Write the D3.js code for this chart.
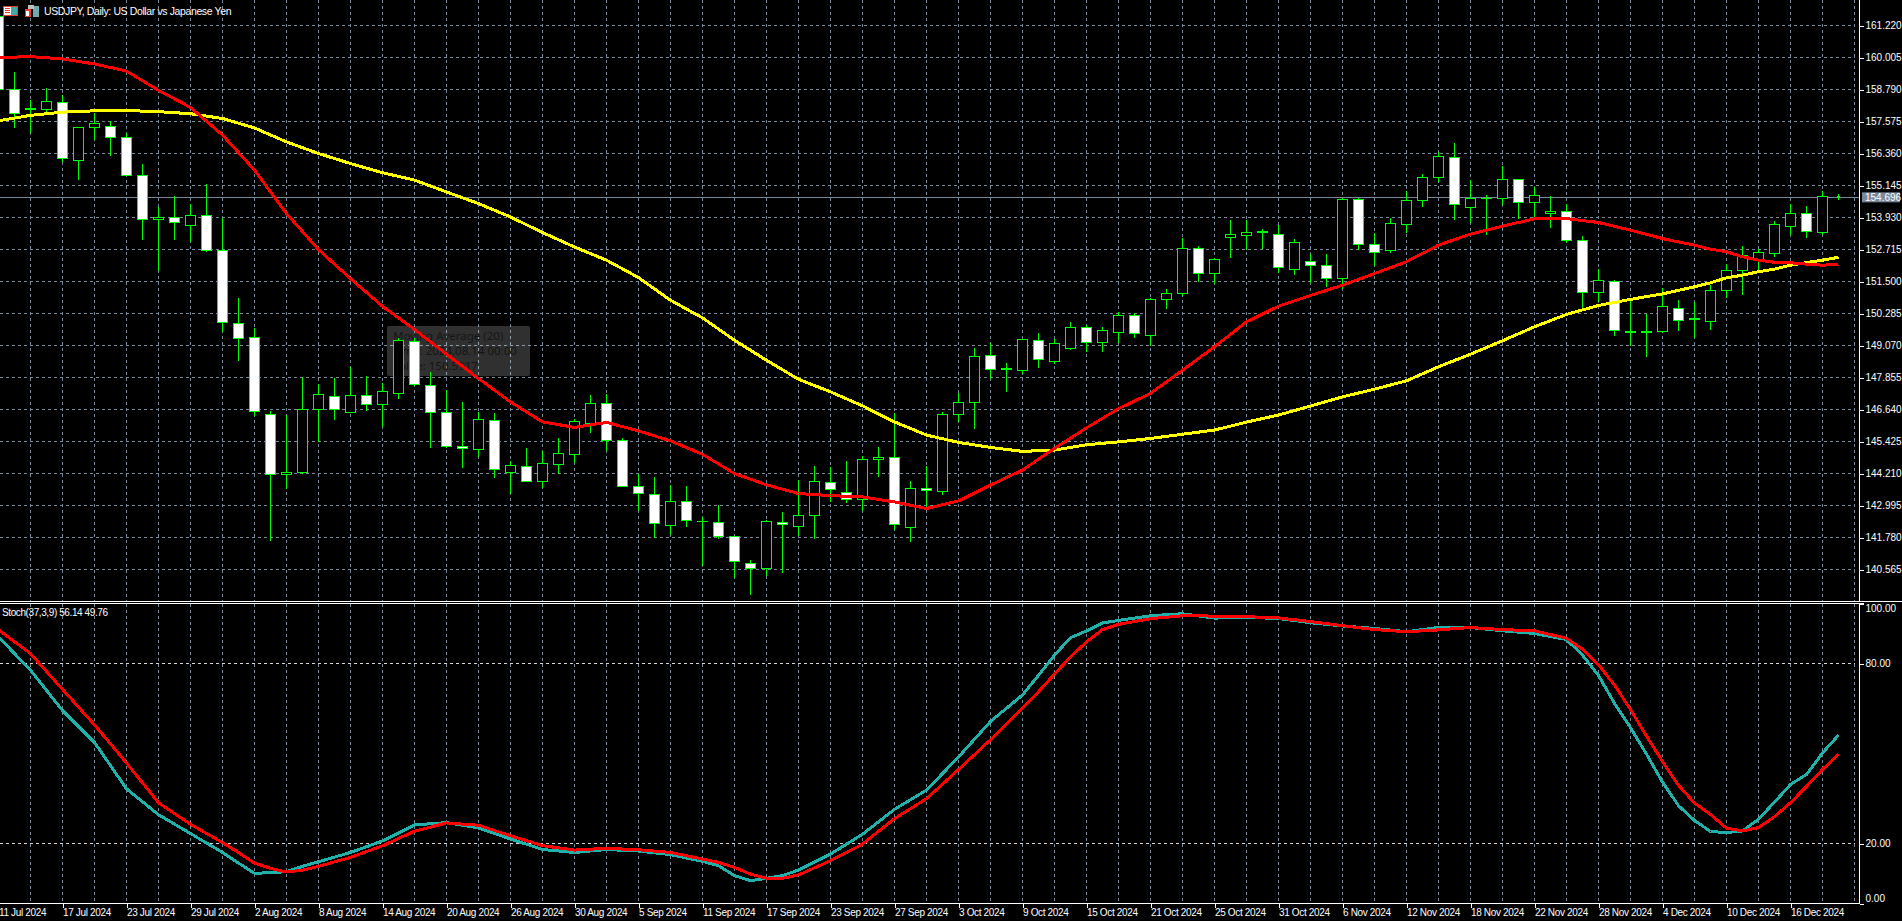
<!DOCTYPE html>
<html>
<head>
<meta charset="utf-8">
<title>USDJPY Daily</title>
<script src="https://cdn.jsdelivr.net/npm/d3@7"></script>
<style>
  html, body { margin: 0; padding: 0; background: #000; overflow: hidden; }
  svg { display: block; }
  text { font-family: "Liberation Sans", sans-serif; fill: #fff; }
</style>
</head>
<body>
<div id="chart"></div>
<script>
// bougies, de la barre -1 (coupee a gauche) a la barre 114
const opens = [
  161.57, 158.79, 158.05, 158.02, 158.28, 156.09, 157.35, 157.37, 156.97, 155.51,
  153.84, 153.92, 153.61, 153.99, 152.68, 149.89, 149.37, 146.45, 144.17, 144.24,
  146.64, 147.13, 146.53, 147.17, 146.83, 147.25, 149.22, 147.55, 146.53, 145.23,
  145.12, 146.22, 144.23, 144.46, 143.91, 144.54, 144.93, 146.10, 146.87, 145.46,
  143.72, 143.41, 142.24, 143.15, 142.39, 142.35, 141.80, 140.79, 140.60, 142.35,
  142.20, 142.62, 143.87, 143.50, 143.22, 144.74, 144.82, 142.16, 143.64, 143.53,
  146.45, 146.91, 148.69, 148.19, 148.12, 149.26, 148.46, 148.94, 149.75, 149.18,
  149.56, 150.21, 149.45, 150.82, 151.03, 152.75, 151.80, 153.16, 153.23, 153.38,
  153.28, 151.94, 152.25, 152.10, 151.61, 154.61, 152.90, 152.68, 153.65, 154.58,
  155.45, 156.21, 154.31, 154.64, 154.65, 155.37, 154.50, 154.08, 154.16, 153.06,
  151.08, 151.50, 149.60, 149.60, 149.60, 150.48, 150.09, 149.98, 151.16, 151.92,
  152.30, 152.56, 153.59, 154.08, 153.36, 154.73,
];
const highs = [
  161.90, 159.45, 158.41, 158.84, 158.60, 157.38, 157.88, 157.61, 157.12, 155.98,
  154.31, 154.74, 154.44, 155.22, 153.92, 150.89, 149.75, 146.58, 146.44, 147.89,
  147.59, 147.85, 148.26, 147.93, 147.63, 149.37, 149.37, 148.06, 147.37, 146.92,
  146.53, 146.50, 144.68, 145.16, 145.07, 145.54, 146.27, 147.18, 147.22, 145.54,
  144.21, 144.06, 143.79, 143.72, 142.57, 143.03, 141.80, 140.91, 142.46, 142.73,
  143.98, 144.49, 144.44, 144.68, 144.89, 145.21, 146.49, 143.91, 144.51, 146.53,
  147.25, 148.99, 149.15, 148.39, 149.30, 149.56, 149.30, 149.98, 149.83, 149.79,
  150.35, 150.29, 150.89, 151.20, 153.17, 152.83, 152.40, 153.85, 153.85, 153.48,
  153.63, 153.10, 152.56, 152.53, 154.66, 154.66, 153.36, 153.93, 154.92, 155.60,
  156.41, 156.74, 155.37, 154.80, 155.88, 155.37, 155.07, 154.74, 154.46, 153.22,
  151.96, 151.55, 150.85, 150.25, 151.27, 150.78, 150.74, 151.35, 152.18, 152.83,
  152.75, 153.78, 154.46, 154.36, 154.92, 154.82,
];
const lows = [
  158.60, 157.33, 157.12, 157.95, 156.02, 155.36, 156.88, 156.27, 155.50, 153.07,
  151.88, 153.07, 152.99, 152.63, 149.59, 148.49, 146.40, 141.65, 143.63, 144.20,
  145.41, 146.26, 146.53, 146.59, 145.96, 147.03, 147.55, 145.17, 145.18, 144.41,
  144.82, 144.03, 143.44, 143.89, 143.67, 144.21, 144.60, 145.75, 145.08, 143.70,
  142.77, 141.77, 141.86, 142.19, 140.70, 141.74, 140.26, 139.58, 140.30, 140.45,
  141.84, 141.73, 143.11, 143.10, 142.77, 144.08, 142.06, 141.62, 142.91, 143.39,
  146.18, 145.89, 147.81, 147.31, 147.99, 148.22, 148.37, 148.91, 148.83, 148.83,
  149.15, 149.36, 149.06, 150.45, 150.96, 151.50, 151.42, 152.40, 152.71, 152.74,
  151.83, 151.75, 151.46, 151.30, 151.20, 152.68, 152.10, 152.60, 153.36, 154.33,
  155.27, 153.84, 153.74, 153.27, 154.41, 153.88, 153.85, 153.54, 152.97, 150.45,
  150.74, 149.44, 149.06, 148.64, 149.53, 149.63, 149.36, 149.67, 150.89, 150.99,
  151.88, 152.44, 153.26, 153.16, 153.25, 154.60,
];
const closes = [
  158.79, 157.88, 158.03, 158.33, 156.17, 157.35, 157.49, 156.95, 155.51, 153.85,
  153.92, 153.73, 153.99, 152.66, 149.93, 149.32, 146.55, 144.17, 144.25, 146.64,
  147.21, 146.64, 147.17, 146.83, 147.32, 149.26, 147.59, 146.53, 145.22, 145.16,
  146.26, 144.36, 144.51, 143.91, 144.58, 144.96, 146.18, 146.87, 145.46, 143.72,
  143.45, 142.31, 143.15, 142.42, 142.37, 141.82, 140.87, 140.60, 142.39, 142.27,
  142.62, 143.91, 143.60, 143.22, 144.74, 144.82, 142.27, 143.64, 143.57, 146.45,
  146.91, 148.65, 148.16, 148.17, 149.30, 148.54, 149.15, 149.75, 149.18, 149.64,
  150.21, 149.53, 150.82, 151.03, 152.75, 151.80, 152.34, 153.28, 153.36, 153.36,
  152.02, 152.98, 152.11, 151.61, 154.61, 152.90, 152.60, 153.70, 154.58, 155.45,
  156.25, 154.42, 154.66, 154.66, 155.37, 154.50, 154.77, 154.16, 153.06, 151.08,
  151.54, 149.64, 149.58, 149.58, 150.55, 150.02, 150.07, 151.16, 151.92, 152.49,
  152.60, 153.67, 154.08, 153.40, 154.73, 154.696,
];

// moyennes mobiles, lues une barre sur deux, plus serrees a la fin
const maBars = [
  -1, 1, 3, 5, 7, 9, 11, 13, 15, 17, 19, 21, 23, 25, 27, 29, 31, 33, 35, 37,
  39, 41, 43, 45, 47, 49, 51, 53, 55, 57, 59, 61, 63, 65, 67, 69, 71, 73, 75, 77,
  79, 81, 83, 85, 87, 89, 91, 93, 95, 97, 99, 101, 103, 105, 106, 107, 108, 109,
  110, 111, 112, 113, 114,
];
const ma20 = [
  160.00, 160.04, 159.95, 159.76, 159.49, 158.76, 158.11, 157.06, 155.73, 154.08,
  152.71, 151.61, 150.56, 149.68, 148.74, 147.82, 146.93, 146.17, 145.96, 146.15,
  145.83, 145.45, 144.94, 144.21, 143.78, 143.45, 143.37, 143.32, 143.13, 142.88,
  143.17, 143.77, 144.34, 145.16, 145.94, 146.67, 147.25, 148.13, 149.02, 149.97,
  150.56, 150.97, 151.36, 151.80, 152.25, 152.88, 153.30, 153.60, 153.88, 153.89,
  153.74, 153.45, 153.13, 152.88, 152.73, 152.63, 152.44, 152.31,
  152.23, 152.21, 152.16, 152.12, 152.15,
];
const ma50 = [
  157.60, 157.81, 157.93, 157.98, 157.99, 157.95, 157.87, 157.69, 157.33, 156.80,
  156.36, 155.98, 155.63, 155.35, 154.90, 154.46, 153.95, 153.36, 152.81, 152.31,
  151.65, 150.79, 150.12, 149.27, 148.51, 147.79, 147.31, 146.78, 146.17, 145.67,
  145.39, 145.20, 145.05, 145.10, 145.30, 145.41, 145.54, 145.70, 145.86, 146.16,
  146.43, 146.77, 147.12, 147.41, 147.73, 148.26, 148.74, 149.25, 149.78, 150.25,
  150.59, 150.82, 151.03, 151.30, 151.45, 151.64, 151.74, 151.87,
  151.97, 152.12, 152.22, 152.31, 152.42,
];

// stochastique, points plus serres dans les virages
const stochBars = [
  -1, 1, 3, 5, 7, 9, 11, 13, 14, 15, 16, 17, 18, 19,
  21, 23, 25, 27, 29, 31, 33, 35, 37, 39, 41, 43, 44, 45, 46, 47, 48, 49,
  51, 53, 55, 57, 59, 61, 63, 64, 65, 66, 67, 68, 69,
  71, 73, 75, 77, 79, 81, 83, 85, 87, 89, 91, 93, 95, 97,
  98, 99, 100, 101, 102, 103, 104, 105, 106, 107, 108, 109, 110, 111, 112, 113, 114,
];
const stochMain = [
  88.84, 77.79, 64.31, 53.70, 38.23, 29.61, 23.31, 17.01, 13.48, 10.05, 10.3, 10.61, 12.4, 13.92,
  17.01, 20.88, 26.19, 26.96, 25.19, 21.5, 18.0, 17.0, 18.0, 17.5, 16.3, 14.04, 12.6, 9.29, 7.6, 8.40, 9.3, 11.16,
  16.47, 23.10, 31.39, 37.79, 48.84, 60.67, 69.51, 76.1, 82.77, 88.6, 90.83, 93.5, 94.37,
  95.92, 96.58, 95.14, 95.4, 95.0, 93.6, 92.5, 91.7, 90.6, 92.0, 92.0, 90.9, 90.0, 88.0,
  82.8, 76.0, 66.7, 58.6, 49.8, 40.5, 32.6, 27.7, 24.0, 23.65, 24.2, 28.07, 33.8, 39.67, 43.0, 50.17, 56.14,
];
const stochSignal = [
  91.27, 83.31, 71.38, 59.56, 46.85, 33.59, 26.41, 20.33, 17.0, 13.48, 11.7, 10.50, 11.1, 12.37,
  15.36, 19.23, 24.09, 26.85, 26.08, 22.6, 19.3, 17.8, 18.4, 17.9, 17.0, 14.81, 13.7, 12.05, 9.8, 8.40, 8.4, 9.51,
  14.26, 19.78, 28.29, 34.92, 44.64, 54.59, 65.09, 70.6, 76.47, 82.2, 87.19, 91.3, 93.04,
  94.92, 95.92, 95.81, 95.6, 95.2, 94.0, 92.6, 91.3, 90.6, 91.2, 92.0, 91.3, 90.9, 88.4,
  84.8, 79.6, 72.8, 64.7, 55.8, 47.4, 39.4, 33.5, 29.7, 25.09, 24.2, 25.31, 28.95, 33.59, 39.0, 44.65, 49.76,
];

// axes
const priceTicks = [
  161.22, 160.005, 158.79, 157.575, 156.36, 155.145, 153.93, 152.715, 151.5,
  150.285, 149.07, 147.855, 146.64, 145.425, 144.21, 142.995, 141.78, 140.565,
];
const stochTicks = [100, 80, 20, 0];
const stochLevels = [80, 20];
const dateLabels = [
  "11 Jul 2024", "17 Jul 2024", "23 Jul 2024", "29 Jul 2024", "2 Aug 2024",
  "8 Aug 2024", "14 Aug 2024", "20 Aug 2024", "26 Aug 2024", "30 Aug 2024",
  "5 Sep 2024", "11 Sep 2024", "17 Sep 2024", "23 Sep 2024", "27 Sep 2024",
  "3 Oct 2024", "9 Oct 2024", "15 Oct 2024", "21 Oct 2024", "25 Oct 2024",
  "31 Oct 2024", "6 Nov 2024", "12 Nov 2024", "18 Nov 2024", "22 Nov 2024",
  "28 Nov 2024", "4 Dec 2024", "10 Dec 2024", "16 Dec 2024",
];
const lastPrice = 154.696;
const tooltipLines = ["Moving Average (20)", "Time: 2024.08.14 00:00", "Value: 150.5917"];

// dimensions
const width = 1902;
const height = 921;
const axisX = 1859.5;
const axisY = 903.5;

const green = "#00ff00";
const gridColor = "#778899";

const x = d3.scaleLinear().domain([-1, 115]).range([-1.5, 1854.5]);
const y = d3.scaleLinear().domain([161.22, 140.565]).range([25.5, 569.5]);
const yStoch = d3.scaleLinear().domain([0, 100]).range([903.5, 603.5]);

const svg = d3
  .select("#chart")
  .append("svg")
  .attr("width", width)
  .attr("height", height);

svg.append("rect").attr("width", width).attr("height", height).attr("fill", "#000");

svg.append("clipPath").attr("id", "clip-price")
  .append("rect").attr("width", axisX).attr("height", 601);
svg.append("clipPath").attr("id", "clip-stoch")
  .append("rect").attr("y", 604).attr("width", axisX).attr("height", axisY - 604);

// grille
const grid = svg.append("g")
  .attr("stroke", gridColor)
  .attr("stroke-dasharray", "3,3")
  .attr("shape-rendering", "crispEdges");

grid.selectAll(".h")
  .data(priceTicks)
  .enter()
  .append("line")
  .attr("x1", 0)
  .attr("x2", 1855)
  .attr("y1", (d) => y(d))
  .attr("y2", (d) => y(d));

const gridBars = d3.range(1, 116, 2);
[[0, 601], [604, axisY]].forEach(function (span) {
  grid.selectAll(".v" + span[0])
    .data(gridBars)
    .enter()
    .append("line")
    .attr("x1", (d) => x(d))
    .attr("x2", (d) => x(d))
    .attr("y1", span[0])
    .attr("y2", span[1]);
});

svg.append("g")
  .attr("stroke", "#d8d8d8")
  .attr("stroke-dasharray", "3,3")
  .attr("shape-rendering", "crispEdges")
  .selectAll("line")
  .data(stochLevels)
  .enter()
  .append("line")
  .attr("x1", 0)
  .attr("x2", 1855)
  .attr("y1", (d) => yStoch(d))
  .attr("y2", (d) => yStoch(d));

// ligne du dernier prix
svg.append("line")
  .attr("x1", 0)
  .attr("x2", axisX)
  .attr("y1", y(lastPrice))
  .attr("y2", y(lastPrice))
  .attr("stroke", gridColor)
  .attr("shape-rendering", "crispEdges");

// info box restee a l'ecran, sous les bougies
const tip = svg.append("g");
tip.append("rect")
  .attr("x", 387)
  .attr("y", 326)
  .attr("width", 143)
  .attr("height", 50)
  .attr("rx", 2)
  .attr("fill", "#ffffff")
  .attr("fill-opacity", 0.19);
tip.selectAll("text")
  .data(tooltipLines)
  .enter()
  .append("text")
  .attr("x", 393)
  .attr("y", (d, i) => 340 + i * 15)
  .style("fill", "#141414")
  .style("font-family", "'Noto Sans', sans-serif")
  .style("font-size", "11.5px")
  .text((d) => d);

// bougies
const bars = opens.map((o, i) => ({
  bar: i - 1, open: o, high: highs[i], low: lows[i], close: closes[i],
}));

const candles = svg.append("g")
  .attr("clip-path", "url(#clip-price)")
  .attr("shape-rendering", "crispEdges");

candles.selectAll(".wick")
  .data(bars)
  .enter()
  .append("line")
  .attr("x1", (d) => x(d.bar))
  .attr("x2", (d) => x(d.bar))
  .attr("y1", (d) => y(d.high))
  .attr("y2", (d) => y(d.low))
  .attr("stroke", green);

candles.selectAll(".body")
  .data(bars)
  .enter()
  .append("rect")
  // la derniere barre est encore en formation, corps tres court
  .attr("x", (d) => x(d.bar) - (d.bar === 114 ? 1 : 5))
  .attr("width", (d) => (d.bar === 114 ? 2 : 10))
  .attr("y", (d) => y(Math.max(d.open, d.close)))
  .attr("height", (d) => Math.abs(y(d.open) - y(d.close)))
  .attr("fill", (d) => (d.close >= d.open ? "#000" : "#fff"))
  .attr("stroke", green);

// courbes
function drawLine(parent, yScale, barList, values, color, strokeWidth) {
  const line = d3.line()
    .x((d) => x(d))
    .y((d, i) => yScale(values[i]));
  parent.append("path")
    .datum(barList)
    .attr("d", line)
    .attr("fill", "none")
    .attr("stroke", color)
    .attr("stroke-width", strokeWidth)
    .attr("stroke-linejoin", "round")
    .attr("shape-rendering", "crispEdges");
}

const maLayer = svg.append("g").attr("clip-path", "url(#clip-price)");
drawLine(maLayer, y, maBars, ma50, "#ffff00", 3);
drawLine(maLayer, y, maBars, ma20, "#ff0000", 3);

const stochLayer = svg.append("g").attr("clip-path", "url(#clip-stoch)");
drawLine(stochLayer, yStoch, stochBars, stochMain, "#20b2aa", 3);
drawLine(stochLayer, yStoch, stochBars, stochSignal, "#ff0000", 3);

// separateur des deux panneaux
svg.append("g")
  .attr("stroke", "#fff")
  .attr("shape-rendering", "crispEdges")
  .call(function (g) {
    g.append("line").attr("x1", 0).attr("x2", width).attr("y1", 601.5).attr("y2", 601.5);
    g.append("line").attr("x1", 0).attr("x2", axisX + 4).attr("y1", 603.5).attr("y2", 603.5);
  });

// axes
function styleAxis(g) {
  g.select(".domain").attr("stroke", "#fff");
  g.selectAll(".tick line").attr("stroke", "#fff");
  g.selectAll("text")
    .style("font-family", "'Liberation Sans', sans-serif")
    .style("font-size", "10px")
    .style("fill", "#fff");
  g.attr("shape-rendering", "crispEdges");
}

const priceAxis = d3.axisRight(y)
  .tickValues(priceTicks)
  .tickSize(4)
  .tickPadding(2)
  .tickFormat(d3.format(".3f"));
svg.append("g")
  .attr("transform", "translate(" + axisX + ",0)")
  .call(priceAxis)
  .call(styleAxis)
  .call((g) => g.select(".domain").attr("d", "M0,0V601"));

const stochAxis = d3.axisRight(yStoch)
  .tickValues(stochTicks)
  .tickSize(4)
  .tickPadding(2)
  .tickFormat(d3.format(".2f"));
svg.append("g")
  .attr("transform", "translate(" + axisX + ",0)")
  .call(stochAxis)
  .call(styleAxis)
  .call((g) => g.select(".domain").attr("d", "M0,603V903.5"))
  // 100 et 0 sont decales pour rester dans le panneau
  .call((g) => g.selectAll(".tick text")
    .attr("dy", (d) => (d === 100 ? "0.75em" : d === 0 ? "-0.2em" : "0.32em")));

const timeAxis = d3.axisBottom(x)
  .tickValues(dateLabels.map((d, i) => -1 + i * 4))
  .tickSize(4)
  .tickPadding(1)
  .tickFormat((d) => dateLabels[(d + 1) / 4]);
svg.append("g")
  .attr("transform", "translate(0," + axisY + ")")
  .call(timeAxis)
  .call(styleAxis)
  .call((g) => g.select(".domain").attr("d", "M0,0H" + axisX))
  .call((g) => g.selectAll(".tick text").attr("text-anchor", "start").attr("letter-spacing", "-0.35px"));

// etiquette du dernier prix
svg.append("rect")
  .attr("x", 1862)
  .attr("y", y(lastPrice) - 5)
  .attr("width", 38)
  .attr("height", 10)
  .attr("fill", gridColor);
svg.append("text")
  .attr("x", 1865)
  .attr("y", y(lastPrice) + 3.5)
  .style("font-size", "10px")
  .text(d3.format(".3f")(lastPrice));

// titres
svg.append("text")
  .attr("x", 44)
  .attr("y", 14.5)
  .style("font-size", "10.5px")
  .attr("letter-spacing", "-0.38px")
  .text("USDJPY, Daily:  US Dollar vs Japanese Yen");
svg.append("text")
  .attr("x", 2)
  .attr("y", 616)
  .style("font-size", "10px")
  .attr("letter-spacing", "-0.4px")
  .text("Stoch(37,3,9) 56.14 49.76");

// icones de la barre de titre
const icons = svg.append("g").attr("shape-rendering", "crispEdges");
icons.append("rect").attr("x", 3.5).attr("y", 6.5).attr("width", 14).attr("height", 9)
  .attr("fill", "#fff").attr("stroke", "#e04030");
icons.append("rect").attr("x", 11).attr("y", 7).attr("width", 6).attr("height", 8).attr("fill", "#40a8a8");
icons.append("rect").attr("x", 5).attr("y", 8).attr("width", 5).attr("height", 1).attr("fill", "#e04030");
icons.append("rect").attr("x", 5).attr("y", 10).attr("width", 5).attr("height", 1).attr("fill", "#e04030");
icons.append("rect").attr("x", 5).attr("y", 12).attr("width", 5).attr("height", 1).attr("fill", "#e04030");
icons.append("rect").attr("x", 25).attr("y", 9).attr("width", 6).attr("height", 8).attr("fill", "#e04030");
icons.append("rect").attr("x", 26).attr("y", 11).attr("width", 3).attr("height", 5).attr("fill", "#fff");
icons.append("rect").attr("x", 33).attr("y", 6).attr("width", 6).attr("height", 11).attr("fill", "#70a8b0");
icons.append("rect").attr("x", 28).attr("y", 5).attr("width", 6).attr("height", 4).attr("fill", "#c0c0c0");
</script>
</body>
</html>
